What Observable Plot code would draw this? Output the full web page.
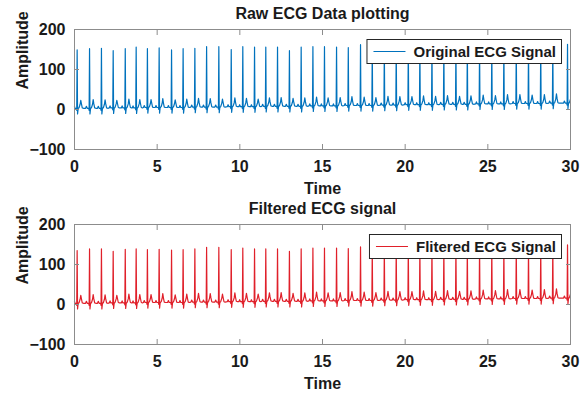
<!DOCTYPE html>
<html><head><meta charset="utf-8">
<script src="https://cdn.jsdelivr.net/npm/d3@7"></script>
<script src="https://cdn.jsdelivr.net/npm/@observablehq/plot@0.6"></script>
<style>
body{margin:0;background:#fff;font-family:"Liberation Sans",Arial,sans-serif;}
#chart svg{display:block}
</style></head><body><div id="chart"></div>
<script>
// Beat (R-peak) times in seconds
const beatTimes = [0.16, 0.91, 1.63, 2.34, 3.07, 3.73, 4.41, 5.12, 5.87, 6.57, 7.28, 7.99, 8.73, 9.48, 10.18, 10.89, 11.57, 12.28, 13.00, 13.71, 14.42, 15.12, 15.85, 16.56, 17.30, 18.01, 18.74, 19.46, 20.19, 20.89, 21.62, 22.34, 23.07, 23.76, 24.50, 25.24, 25.97, 26.72, 27.46, 28.20, 28.93, 29.82];
// R-peak amplitudes
const rawPeaks = [149, 152, 153, 147, 152, 156, 152, 154, 149, 152, 153, 157, 157, 150, 157, 156, 156, 156, 147, 156, 157, 157, 156, 155, 162, 157, 158, 158, 159, 157, 158, 158, 159, 158, 160, 158, 159, 160, 159, 158, 160, 163];
const filteredPeaks = [135, 139, 139, 133, 138, 139, 137, 138, 136, 137, 139, 143, 143, 137, 141, 139, 139, 139, 133, 139, 141, 141, 141, 140, 144, 142, 143, 143, 144, 142, 143, 143, 144, 143, 145, 143, 144, 145, 144, 143, 145, 149];
// Baseline level under each beat
const baseline = [3, 3, 3, 4, 4, 4, 5, 5, 5, 5, 6, 6, 6, 7, 7, 7, 8, 8, 8, 8, 9, 9, 9, 10, 10, 10, 11, 11, 12, 12, 12, 13, 13, 13, 14, 14, 14, 15, 15, 15, 16, 16];
// T-wave height above baseline for each beat
const tWave = [20, 22, 21, 19, 22, 21, 20, 22, 19, 21, 22, 21, 20, 22, 21, 19, 21, 22, 20, 21, 22, 20, 21, 22, 21, 20, 22, 21, 20, 22, 21, 22, 20, 21, 22, 21, 23, 22, 21, 22, 23, 20];
// Shape of one beat: offsets (s) from the R peak and level above baseline
const beatOffsets = [-0.24, -0.19, -0.14, -0.05, -0.025, 0, 0.025, 0.06, 0.12, 0.18, 0.22, 0.26, 0.31, 0.38];
const beatLevels  = [0, 5, 0, 0, -5, 0, -14, -1, 2, 10, 0, 11, 1, 0];
const rIndex = 5, tIndex = 10;
const startValue = 8;
const xTicks = [0, 5, 10, 15, 20, 25, 30];
const yTicks = [-100, 0, 100, 200];

function buildSeries(peaks) {
  const pts = [{t: 0, v: startValue}];
  beatTimes.forEach((bt, i) => {
    beatOffsets.forEach((off, k) => {
      const t = bt + off;
      if (t <= 0 || t > 30) return;
      let v;
      if (k === rIndex) v = peaks[i];
      else if (k === tIndex) v = baseline[i] + tWave[i];
      else v = baseline[i] + beatLevels[k];
      pts.push({t, v});
    });
  });
  return pts;
}

const gray = "#8c8c8c";
const font = "'Liberation Sans', Arial, sans-serif";

function makePlot(data, color, title, legendText, height, marginTop, marginBottom) {
  const svg = Plot.plot({
    width: 587, height, marginLeft: 74, marginRight: 17, marginTop, marginBottom,
    style: {fontFamily: font, fontSize: "16px", fontWeight: "bold", color: "#1a1a1a", background: "white", overflow: "visible"},
    x: {domain: [0, 30], ticks: xTicks, label: null},
    y: {domain: [-100, 200], ticks: yTicks, label: null},
    marks: [
      Plot.line(data, {x: "t", y: "v", stroke: color, strokeWidth: 1.2}),
      Plot.frame({stroke: gray}),
      Plot.axisX({anchor: "bottom", ticks: xTicks, tickSize: -5, tickPadding: 16, stroke: gray, fill: "#1a1a1a", label: null}),
      Plot.axisX({anchor: "top", ticks: xTicks, tickSize: -5, tickFormat: () => "", stroke: gray, label: null}),
      Plot.axisY({anchor: "left", ticks: yTicks, tickSize: -5, tickPadding: 14, stroke: gray, fill: "#1a1a1a", label: null}),
      Plot.axisY({anchor: "right", ticks: yTicks, tickSize: -5, tickFormat: () => "", stroke: gray, label: null}),
      Plot.text([title], {frameAnchor: "top", lineAnchor: "middle", dy: -16, text: d => d, fontSize: 16, fontWeight: "bold", fill: "#1a1a1a"}),
      Plot.text(["Time"], {frameAnchor: "bottom", lineAnchor: "middle", dy: 39, text: d => d, fontSize: 16, fontWeight: "bold", fill: "#1a1a1a"}),
      Plot.text(["Amplitude"], {frameAnchor: "left", dx: -52, rotate: -90, text: d => d, fontSize: 16, fontWeight: "bold", fill: "#1a1a1a"})
    ]
  });
  return {svg, color, legendText, marginTop};
}

const topPlot = makePlot(buildSeries(rawPeaks), "#0072BD", "Raw ECG Data plotting", "Original ECG Signal", 196, 29, 47);
const bottomPlot = makePlot(buildSeries(filteredPeaks), "#E0202A", "Filtered ECG signal", "Flitered ECG Signal", 201, 28, 53);
const host = document.getElementById("chart");
host.appendChild(topPlot.svg);
host.appendChild(bottomPlot.svg);

// Legends
[topPlot, bottomPlot].forEach(p => {
  const s = d3.select(p.svg);
  const g = s.append("g").attr("font-family", font).attr("font-weight", "bold").attr("font-size", 15).attr("text-anchor", "start");
  const rightEdge = 561;
  const boxTop = p.marginTop + 10, boxH = 24;
  const rect = g.append("rect").attr("fill", "white").attr("stroke", "#262626").attr("stroke-width", 1);
  const txt = g.append("text").text(p.legendText).attr("fill", "#1a1a1a").attr("text-anchor", "start").attr("y", boxTop + boxH / 2 + 5.5);
  const w = txt.node().getComputedTextLength();
  const textStart = rightEdge - 5 - w;
  const left = textStart - 47;
  txt.attr("x", textStart);
  rect.attr("x", left + 0.5).attr("y", boxTop + 0.5).attr("width", rightEdge - left).attr("height", boxH);
  g.append("line").attr("x1", left + 7).attr("x2", left + 39).attr("y1", boxTop + boxH / 2 + 0.5).attr("y2", boxTop + boxH / 2 + 0.5).attr("stroke", p.color).attr("stroke-width", 1.1);
});
</script></body></html>
